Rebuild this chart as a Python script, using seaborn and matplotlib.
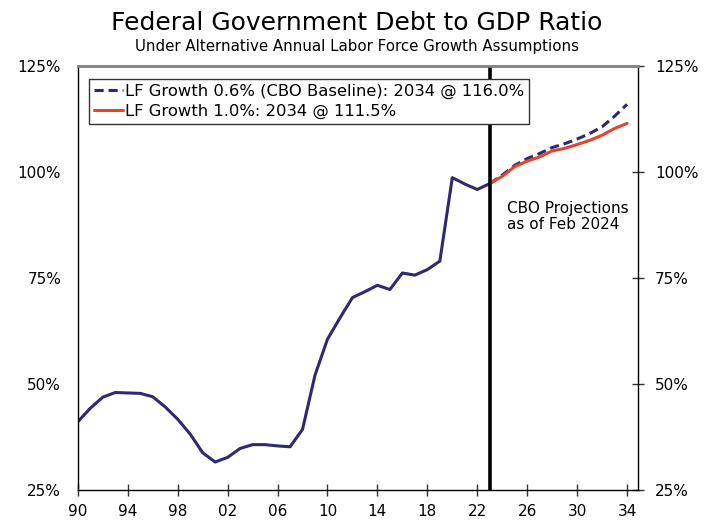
import matplotlib
matplotlib.use('Agg')
import matplotlib.pyplot as plt
import seaborn as sns
import pandas as pd

# historical debt-to-GDP (%), 1990-2023
hist_years = list(range(1990, 2024))
hist_vals = [41.1, 44.3, 46.9, 48.0, 47.9, 47.8, 47.0, 44.6, 41.7, 38.2,
             33.8, 31.6, 32.7, 34.8, 35.7, 35.7, 35.4, 35.2, 39.3, 52.1,
             60.6, 65.6, 70.4, 71.8, 73.3, 72.3, 76.2, 75.7, 77.0, 79.0,
             98.7, 97.2, 95.9, 97.3]

# CBO projections, 2023-2034
proj_years = list(range(2023, 2035))
base_vals = [97.3, 99.3, 101.6, 103.2, 104.4, 105.8, 106.7, 107.8, 109.1, 110.7, 113.2, 116.0]
alt_vals = [97.3, 99.0, 101.3, 102.6, 103.6, 105.0, 105.6, 106.5, 107.5, 108.7, 110.3, 111.5]

base_label = 'LF Growth 0.6% (CBO Baseline): 2034 @ 116.0%'
alt_label = 'LF Growth 1.0%: 2034 @ 111.5%'
xtick_years = list(range(1990, 2035, 4))
ytick_vals = [25, 50, 75, 100, 125]

navy = '#2f2a6e'
red = '#e5442b'

sns.set_style('white')
plt.rcParams['font.family'] = ['DejaVu Sans']
plt.rcParams['text.color'] = 'black'
plt.rcParams['xtick.color'] = 'black'
plt.rcParams['ytick.color'] = 'black'

hist = pd.DataFrame({'year': hist_years, 'val': hist_vals})
proj = pd.DataFrame({'year': proj_years, 'base': base_vals, 'alt': alt_vals})

fig = plt.figure(figsize=(7.14, 5.21), dpi=100)
ax = fig.add_axes([0.109, 0.0595, 0.785, 0.8135])

sns.lineplot(data=hist, x='year', y='val', ax=ax, color=navy, lw=2.2)
sns.lineplot(data=proj, x='year', y='base', ax=ax, color=navy, lw=2.2,
             label=base_label, linestyle=(0, (3, 1.6)))
sns.lineplot(data=proj, x='year', y='alt', ax=ax, color=red, lw=2.2,
             label=alt_label)

ax.axvline(2023, color='black', lw=2.6)
ax.text(2024.4, 93.2, 'CBO Projections\nas of Feb 2024', fontsize=11,
        va='top', ha='left', linespacing=1.1)

ax.set_xlim(1990, 2034.9)
ax.set_ylim(25, 125)
ax.set_xticks(xtick_years)
ax.set_xticklabels([f'{y % 100:02d}' for y in xtick_years])
ax.set_yticks(ytick_vals)
ax.set_yticklabels([f'{v}%' for v in ytick_vals])
ax.tick_params(axis='both', direction='inout', length=8, width=1,
               labelsize=11, color='#333333')
ax.tick_params(axis='y', right=True, labelright=True, pad=8)
ax.tick_params(axis='x', bottom=True, pad=6)
ax.set_xlabel('')
ax.set_ylabel('')

for side in ['left', 'right', 'bottom']:
    ax.spines[side].set_color('black')
    ax.spines[side].set_linewidth(1)
ax.spines['top'].set_color('#808080')
ax.spines['top'].set_linewidth(2)

leg = ax.legend(loc='upper left', bbox_to_anchor=(0.005, 0.99), fontsize=11.8,
                frameon=True, fancybox=False, edgecolor='#333333',
                framealpha=1, handlelength=1.8, handletextpad=0.1,
                borderpad=0.3, labelspacing=0.3)
leg.get_frame().set_linewidth(1)
leg.set_zorder(5)

fig.text(0.5, 0.955, 'Federal Government Debt to GDP Ratio', ha='center',
         va='center', fontsize=18)
fig.text(0.5, 0.91, 'Under Alternative Annual Labor Force Growth Assumptions',
         ha='center', va='center', fontsize=10.8)

fig.savefig('out.png', dpi=100)
